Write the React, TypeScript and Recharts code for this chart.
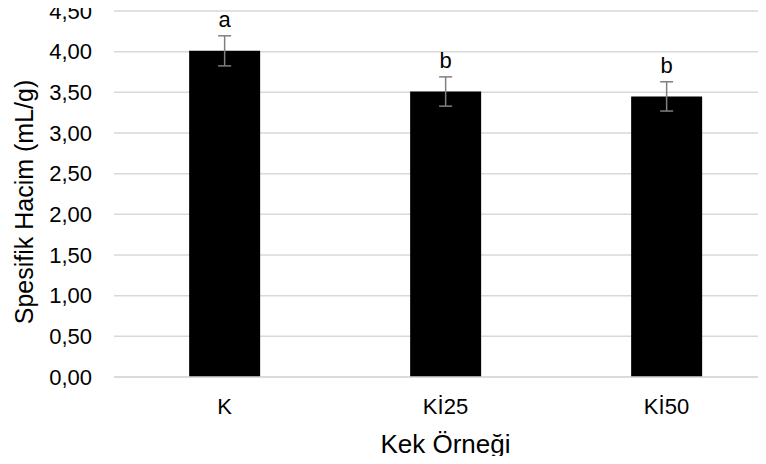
import React from "react";
import {
  BarChart,
  Bar,
  XAxis,
  YAxis,
  CartesianGrid,
  ErrorBar,
  LabelList,
} from "recharts";

const categories = ["K", "Kİ25", "Kİ50"];
const means = [4.01, 3.51, 3.45];
const errors = [0.185, 0.18, 0.18];
const letters = ["a", "b", "b"];
const yTicks = [0, 0.5, 1, 1.5, 2, 2.5, 3, 3.5, 4, 4.5];

const FONT = "'Liberation Sans', Arial, sans-serif";
const COLORS = {
  bar: "#000000",
  grid: "#d9d9d9",
  error: "#808080",
  text: "#000000",
} as const;

const chartData = categories.map((name, i) => ({
  name,
  mean: means[i],
  err: errors[i],
  letter: letters[i],
}));

// letter above the top of the error bar, using the bar's own pixel scale
const LetterLabel = (props: any) => {
  const { x, y, width, height, index } = props;
  const d = chartData[index];
  if (!d) return null;
  const pxPerUnit = height / d.mean;
  const errTop = y - d.err * pxPerUnit;
  return (
    <text
      x={x + width / 2}
      y={errTop - 9}
      textAnchor="middle"
      fontSize={22}
      fontFamily={FONT}
      fill={COLORS.text}
    >
      {d.letter}
    </text>
  );
};

const YTitle = (props: any) => {
  const vb = props.viewBox || { x: 0, y: 0, height: 0 };
  const cx = vb.x + 33;
  const cy = vb.y + vb.height / 2 + 8;
  return (
    <text
      x={cx}
      y={cy}
      transform={`rotate(-90, ${cx}, ${cy})`}
      textAnchor="middle"
      fontSize={25}
      fontFamily={FONT}
      fill={COLORS.text}
    >
      Spesifik Hacim (mL/g)
    </text>
  );
};

export default function App() {
  return (
    <div
      style={{
        margin: -8,
        width: 766,
        height: 464,
        overflow: "hidden",
        background: "#fff",
        fontFamily: FONT,
      }}
    >
      <BarChart
        width={777}
        height={464}
        data={chartData}
        margin={{ top: 11, right: 0, bottom: 0, left: 0 }}
        barCategoryGap="34%"
      >
        <CartesianGrid
          stroke={COLORS.grid}
          strokeWidth={1.5}
          vertical={false}
        />
        <XAxis
          dataKey="name"
          height={87}
          tickSize={0}
          tickMargin={21}
          axisLine={{ stroke: COLORS.grid, strokeWidth: 1.5 }}
          tick={{ fontSize: 22, fill: COLORS.text, fontFamily: FONT }}
          label={{
            value: "Kek Örneği",
            position: "insideBottom",
            offset: 11,
            fontSize: 26,
            fill: COLORS.text,
            fontFamily: FONT,
          }}
        />
        <YAxis
          width={114}
          domain={[0, 4.5]}
          ticks={yTicks}
          interval={0}
          tickSize={0}
          tickMargin={22}
          axisLine={false}
          tick={{ fontSize: 22, fill: COLORS.text, fontFamily: FONT }}
          tickFormatter={(v: number) => v.toFixed(2).replace(".", ",")}
          label={{ content: <YTitle /> }}
        />
        <Bar dataKey="mean" fill={COLORS.bar} isAnimationActive={false}>
          <ErrorBar
            dataKey="err"
            width={6.5}
            stroke={COLORS.error}
            strokeWidth={1.5}
          />
          <LabelList dataKey="letter" content={<LetterLabel />} />
        </Bar>
      </BarChart>
    </div>
  );
}
